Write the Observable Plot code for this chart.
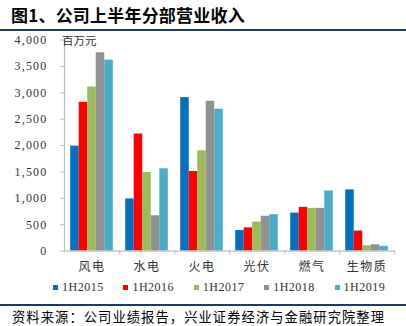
<!DOCTYPE html>
<html><head><meta charset="utf-8">
<script src="https://cdn.jsdelivr.net/npm/d3@7"></script>
<script src="https://cdn.jsdelivr.net/npm/@observablehq/plot@0.6"></script>
<style>
html,body{margin:0;padding:0;background:#fff;}
#wrap{position:relative;width:406px;height:326px;overflow:hidden;font-family:"Noto Sans CJK SC",sans-serif;}
#title{position:absolute;left:11px;top:5px;font-size:17px;font-weight:bold;line-height:20px;color:#000;white-space:nowrap;letter-spacing:0.2px;}
.rule{position:absolute;left:0;width:406px;height:2px;background:#1f3864;}
#unit{position:absolute;left:62px;top:33px;font-size:11.5px;line-height:14px;color:#333;}
#chart{position:absolute;left:0;top:32px;}
#legend{position:absolute;left:53px;top:280px;white-space:nowrap;font-family:"Liberation Serif","Times New Roman",serif;font-size:12px;letter-spacing:0.5px;color:#333;line-height:15px;}
#legend .item{display:inline-block;width:70.4px;letter-spacing:0.5px;}
#legend .sw{display:inline-block;width:5px;height:5px;margin-right:4px;vertical-align:middle;position:relative;top:-1px;}
#source{position:absolute;left:12px;top:308px;font-size:13.3px;letter-spacing:1.05px;line-height:18px;color:#000;white-space:nowrap;}
</style></head>
<body><div id="wrap">
<div id="title">图1、公司上半年分部营业收入</div>
<div class="rule" style="top:29px"></div>
<div id="chart"></div>
<div id="unit">百万元</div>
<div id="legend"></div>
<div class="rule" style="top:304px"></div>
<div id="source">资料来源：公司业绩报告，兴业证券经济与金融研究院整理</div>
</div>
<script>
const categories = ["风电","水电","火电","光伏","燃气","生物质"];
const series = ["1H2015","1H2016","1H2017","1H2018","1H2019"];
const v1H2015 = [1990, 990, 2910, 390, 720, 1160];
const v1H2016 = [2820, 2220, 1510, 440, 830, 380];
const v1H2017 = [3110, 1490, 1900, 550, 810, 100];
const v1H2018 = [3760, 670, 2840, 660, 810, 120];
const v1H2019 = [3620, 1560, 2690, 690, 1140, 90];
const yTicks = [0,500,1000,1500,2000,2500,3000,3500,4000];
const colors = ["#0070c0","#ff0000","#9bbb59","#919191","#4bacc6"];

const values = [v1H2015, v1H2016, v1H2017, v1H2018, v1H2019];
const data = categories.flatMap((c, i) => series.map((s, j) => ({cat: c, series: s, value: values[j][i]})));

const W = 406, ML = 62, MR = 11;
const band = (W - ML - MR) / categories.length;

const chart = Plot.plot({
  width: W, height: 245,
  marginTop: 7.6, marginBottom: 26.4, marginLeft: ML, marginRight: MR,
  style: {fontFamily: "'Noto Sans CJK SC', sans-serif", background: "transparent", overflow: "visible"},
  fx: {domain: categories, padding: 0, label: null, axis: null},
  x: {domain: series, paddingInner: 0, paddingOuter: 0.73, axis: null, round: false},
  y: {domain: [0, 4000], axis: null},
  color: {domain: series, range: colors},
  marks: [
    Plot.barY(data, {fx: "cat", x: "series", y: "value", fill: "series"}),
    Plot.frame({anchor: "bottom", stroke: "#bfbfbf", strokeWidth: 1.2, strokeOpacity: 1}),
    Plot.frame({anchor: "left", facetAnchor: "left", stroke: "#bfbfbf", strokeWidth: 1.2, strokeOpacity: 1}),
    Plot.axisY({ticks: yTicks, tickFormat: d3.format(","), tickSize: 4, tickPadding: 13, stroke: "#bfbfbf",
      fontSize: 12, fontFamily: "'Liberation Serif','Times New Roman',serif", fill: "#333", label: null}),
    Plot.axisFx({anchor: "bottom", tickSize: 4, tickFormat: () => "", dx: band / 2, stroke: "#bfbfbf", label: null}),
    Plot.axisFx({anchor: "bottom", tickSize: 0, tickPadding: 11, fontSize: 12, fill: "#333", label: null})
  ]
});
chart.querySelectorAll("text").forEach(t => {
  if (/\d/.test(t.textContent)) t.setAttribute("letter-spacing", "1.2");
  else t.setAttribute("letter-spacing", "1.5");
});
document.getElementById("chart").appendChild(chart);

const legend = d3.select("#legend");
series.forEach((s, i) => {
  const it = legend.append("span").attr("class", "item");
  it.append("span").attr("class", "sw").style("background", colors[i]);
  it.append("span").text(s);
});
</script>
</body></html>
